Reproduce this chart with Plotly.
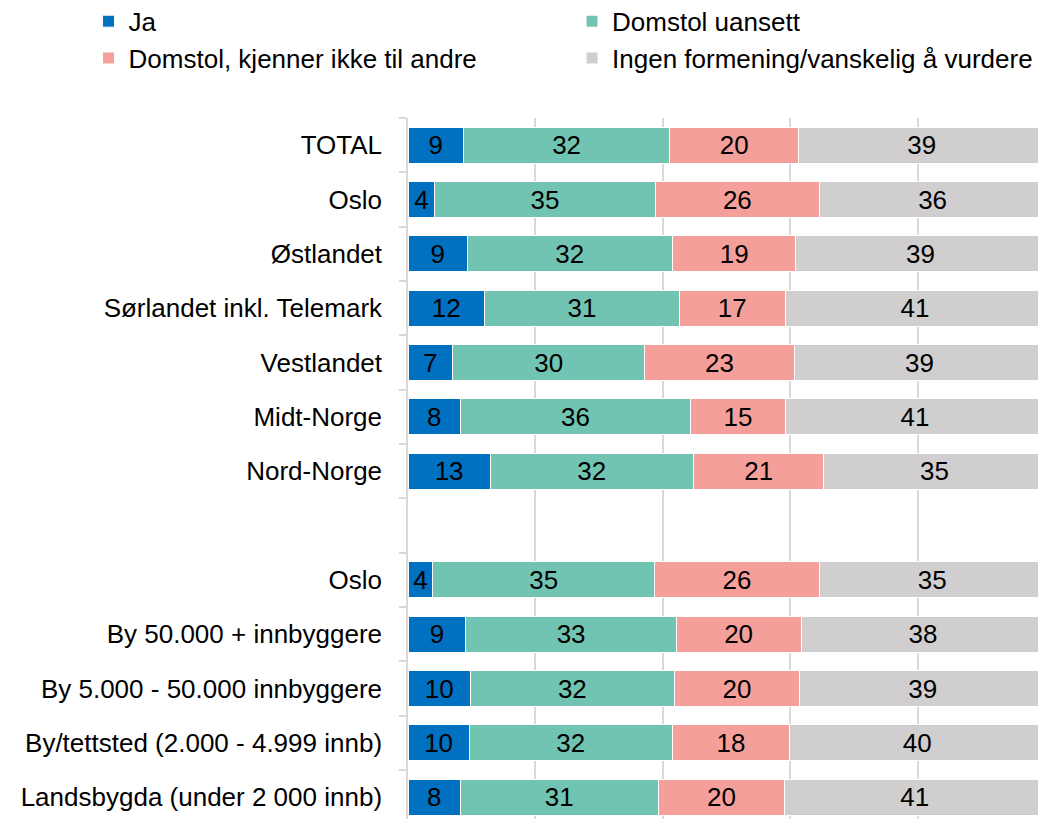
import plotly.graph_objects as go

categories = [
    "TOTAL", "Oslo", "Østlandet", "Sørlandet inkl. Telemark", "Vestlandet",
    "Midt-Norge", "Nord-Norge",
    "Oslo\u200b", "By 50.000 + innbyggere", "By 5.000 - 50.000 innbyggere",
    "By/tettsted (2.000 - 4.999 innb)", "Landsbygda (under 2 000 innb)",
]
blank_row = "  "
category_order = categories[:7] + [blank_row] + categories[7:]

ja = [8.7, 4.2, 9.3, 12.0, 7.0, 8.2, 12.9, 3.9, 9.1, 9.8, 9.6, 8.2]
domstol_uansett = [32.4, 34.6, 32.2, 30.6, 30.2, 36.2, 31.9, 34.8, 33.0, 32.0, 31.9, 31.1]
domstol_kjenner = [20.2, 25.8, 19.4, 16.6, 23.4, 14.8, 20.5, 25.9, 19.6, 19.7, 18.4, 19.8]
ingen_formening = [38.7, 35.5, 39.1, 40.8, 39.4, 40.8, 34.7, 35.4, 38.3, 38.6, 40.1, 40.9]

series = [
    ("Ja", ja, "#0070C0", "legend", "g1"),
    ("Domstol uansett", domstol_uansett, "#71C4B1", "legend2", "g2"),
    ("Domstol, kjenner ikke til andre", domstol_kjenner, "#F59F9B", "legend", "g3"),
    ("Ingen formening/vanskelig å vurdere", ingen_formening, "#D0CECE", "legend2", "g4"),
]

FONT = "Arial, 'Liberation Sans', sans-serif"
FS = 26

fig = go.Figure()
for name, vals, color, leg, grp in series:
    fig.add_trace(go.Bar(
        name=name, y=categories, x=vals, orientation="h",
        marker=dict(color=color, line=dict(color="white", width=1)),
        text=vals, texttemplate="%{x:.0f}", textposition="inside",
        insidetextanchor="middle", textangle=0,
        textfont=dict(family=FONT, size=FS, color="black"),
        legend=leg, legendgroup=grp, hoverinfo="skip",
    ))

legend_common = dict(y=1.1715, yanchor="top", xanchor="left",
                     orientation="v", tracegroupgap=0, traceorder="normal",
                     indentation=-7,
                     font=dict(family=FONT, size=FS, color="black"),
                     bgcolor="rgba(0,0,0,0)")

# the page body adds an 8px offset, so the figure is sized 8px smaller
fig.update_layout(
    width=1038, height=811,
    margin=dict(l=400, r=1, t=110, b=0, autoexpand=False),
    barmode="stack", bargap=0.338,
    plot_bgcolor="white", paper_bgcolor="white",
    font=dict(family=FONT, size=FS, color="black"),
    showlegend=True,
    legend=dict(x=-0.4905, **legend_common),
    legend2=dict(x=0.2685, **legend_common),
)
fig.update_xaxes(range=[0, 100], dtick=20, showticklabels=False, automargin=False,
                 showgrid=True, gridcolor="#D9D9D9", gridwidth=1.5,
                 zeroline=False, fixedrange=True)
fig.update_yaxes(type="category", categoryorder="array", categoryarray=category_order,
                 range=[12.4, -0.5], showline=True, linecolor="#D9D9D9", linewidth=1.5,
                 ticks="outside", tickson="boundaries", ticklen=7, tickcolor="#D9D9D9",
                 tickwidth=1.5, ticklabelstandoff=19, showgrid=False, automargin=False,
                 tickfont=dict(family=FONT, size=FS, color="black"))

fig.write_html("out.html")
